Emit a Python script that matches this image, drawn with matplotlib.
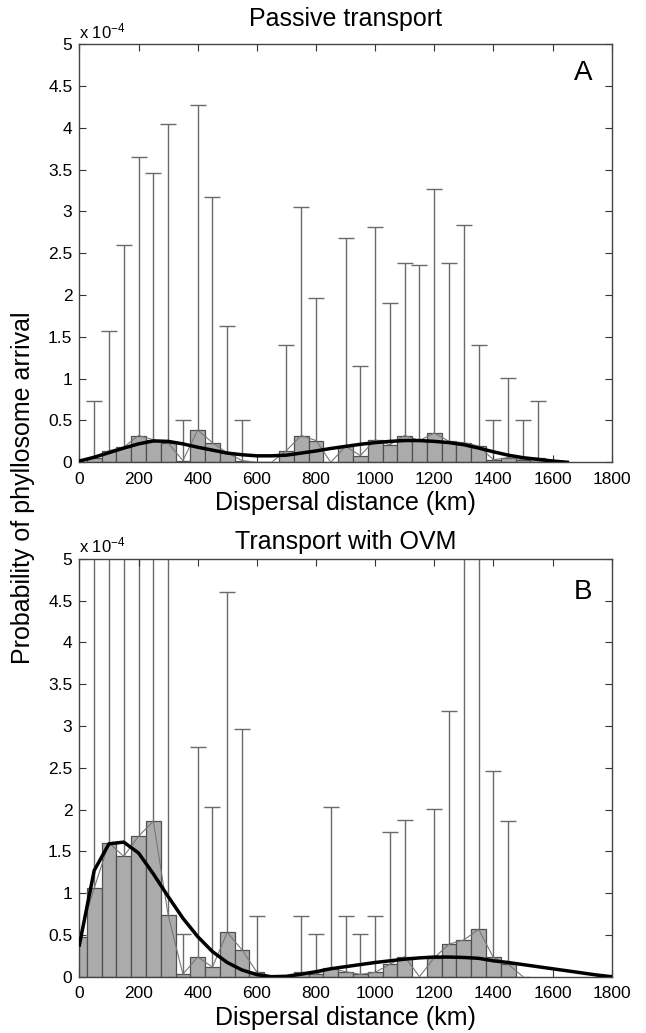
import numpy as np
import matplotlib.pyplot as plt

plt.rcParams['font.family'] = ['Liberation Sans', 'DejaVu Sans']
plt.rcParams['mathtext.fontset'] = 'custom'
plt.rcParams['mathtext.rm'] = 'Liberation Sans'
plt.rcParams['mathtext.it'] = 'Liberation Sans'

# bin centres (km)
centers_A = np.arange(0, 1650, 50)
centers_B = np.arange(0, 1550, 50)

# probability of arrival, units of 1e-4
prob_A = [0.0, 0.05, 0.14, 0.18, 0.32, 0.27, 0.23, 0.02, 0.385, 0.235, 0.11, 0.02,
          0.0, 0.0, 0.14, 0.32, 0.26, 0.0, 0.19, 0.08, 0.27, 0.21, 0.32, 0.26,
          0.35, 0.25, 0.235, 0.195, 0.03, 0.055, 0.03, 0.05, 0.0]
# top of error bars (nan = no error bar)
top_A = [np.nan, 0.73, 1.57, 2.60, 3.65, 3.46, 4.05, 0.51, 4.27, 3.17, 1.63, 0.51,
         np.nan, np.nan, 1.40, 3.05, 1.97, np.nan, 2.68, 1.15, 2.82, 1.91, 2.38, 2.36,
         3.27, 2.38, 2.84, 1.40, 0.51, 1.01, 0.51, 0.73, np.nan]

prob_B = [0.48, 1.06, 1.60, 1.44, 1.68, 1.86, 0.74, 0.03, 0.235, 0.115, 0.53, 0.32,
          0.055, 0.0, 0.0, 0.055, 0.03, 0.10, 0.06, 0.028, 0.052, 0.148, 0.24, 0.0,
          0.227, 0.39, 0.44, 0.567, 0.23, 0.148, 0.0]
top_B = [np.nan, 5.9, 6.4, 7.0, 6.1, 7.5, 6.6, 0.51, 2.75, 2.03, 4.60, 2.96,
         0.73, np.nan, np.nan, 0.73, 0.51, 2.03, 0.73, 0.51, 0.73, 1.73, 1.87, np.nan,
         2.01, 3.18, 6.2, 6.8, 2.46, 1.86, np.nan]

# fitted curves, sampled every 50 km
fit_x_A = np.arange(0, 1700, 50)
fit_A = [0.015, 0.06, 0.115, 0.17, 0.22, 0.255, 0.25, 0.22, 0.18, 0.145, 0.11, 0.09,
         0.077, 0.077, 0.085, 0.11, 0.135, 0.165, 0.19, 0.215, 0.235, 0.25, 0.26, 0.26,
         0.25, 0.235, 0.21, 0.17, 0.125, 0.085, 0.055, 0.035, 0.015, 0.0]
fit_x_B = np.arange(0, 1850, 50)
fit_B = [0.38, 1.27, 1.59, 1.61, 1.48, 1.23, 0.96, 0.70, 0.48, 0.30, 0.17, 0.08,
         0.025, 0.0, 0.005, 0.03, 0.06, 0.095, 0.12, 0.145, 0.17, 0.19, 0.21, 0.225,
         0.235, 0.235, 0.23, 0.22, 0.19, 0.17, 0.145, 0.12, 0.095, 0.07, 0.045, 0.02, 0.0]

xticks = np.arange(0, 2000, 200)
yticks = np.arange(0, 5.5, 0.5)
yticklabels = ['0', '0.5', '1', '1.5', '2', '2.5', '3', '3.5', '4', '4.5', '5']

fig = plt.figure(figsize=(6.46, 10.33), dpi=100)
ax1 = fig.add_axes([0.1229, 0.5525, 0.824, 0.4046])
ax2 = fig.add_axes([0.1229, 0.0545, 0.824, 0.4046])


def draw_panel(ax, x, y, top, fx, fy, title, letter, letter_y, tpad):
    y = np.array(y)
    top = np.array(top)
    err = top - y
    ok = ~np.isnan(err)
    ax.errorbar(x[ok], y[ok], yerr=err[ok], fmt='none', ecolor='#6a6a6a',
                elinewidth=1.0, capsize=6, capthick=1.0, zorder=1)
    ax.bar(x, y, width=50, color='#ababab', edgecolor='#505050', linewidth=0.9, zorder=2)
    ax.plot(x, y, color='#777777', lw=0.8, zorder=3)
    ax.plot(fx, fy, color='black', lw=2.5, zorder=4)

    ax.set_xlim(0, 1800)
    ax.set_ylim(0, 5)
    ax.set_xticks(xticks)
    ax.set_yticks(yticks)
    ax.set_yticklabels(yticklabels)
    ax.tick_params(direction='in', top=True, right=True, length=5, width=0.8,
                   labelsize=12.5, colors='#333333', labelcolor='black')
    ax.tick_params(axis='x', pad=7)
    ax.tick_params(axis='y', pad=5)
    for s in ax.spines.values():
        s.set_color('#444444')
        s.set_linewidth(1.0)
    ax.set_title(title, fontsize=18, pad=tpad)
    ax.set_xlabel('Dispersal distance (km)', fontsize=18, labelpad=3)
    ax.text(0.0, 1.008, r'x 10$^{-4}$', transform=ax.transAxes, fontsize=12,
            ha='left', va='bottom')
    ax.text(0.946, letter_y, letter, transform=ax.transAxes, fontsize=20,
            ha='center', va='center')


draw_panel(ax1, centers_A, prob_A, top_A, fit_x_A, fit_A, 'Passive transport', 'A', 0.931, 13)
draw_panel(ax2, centers_B, prob_B, top_B, fit_x_B, fit_B, 'Transport with OVM', 'B', 0.92, 7)

fig.text(0.036, 0.528, 'Probability of phyllosome arrival', rotation=90,
         fontsize=18, ha='center', va='center')

fig.savefig('out.png', dpi=100)
